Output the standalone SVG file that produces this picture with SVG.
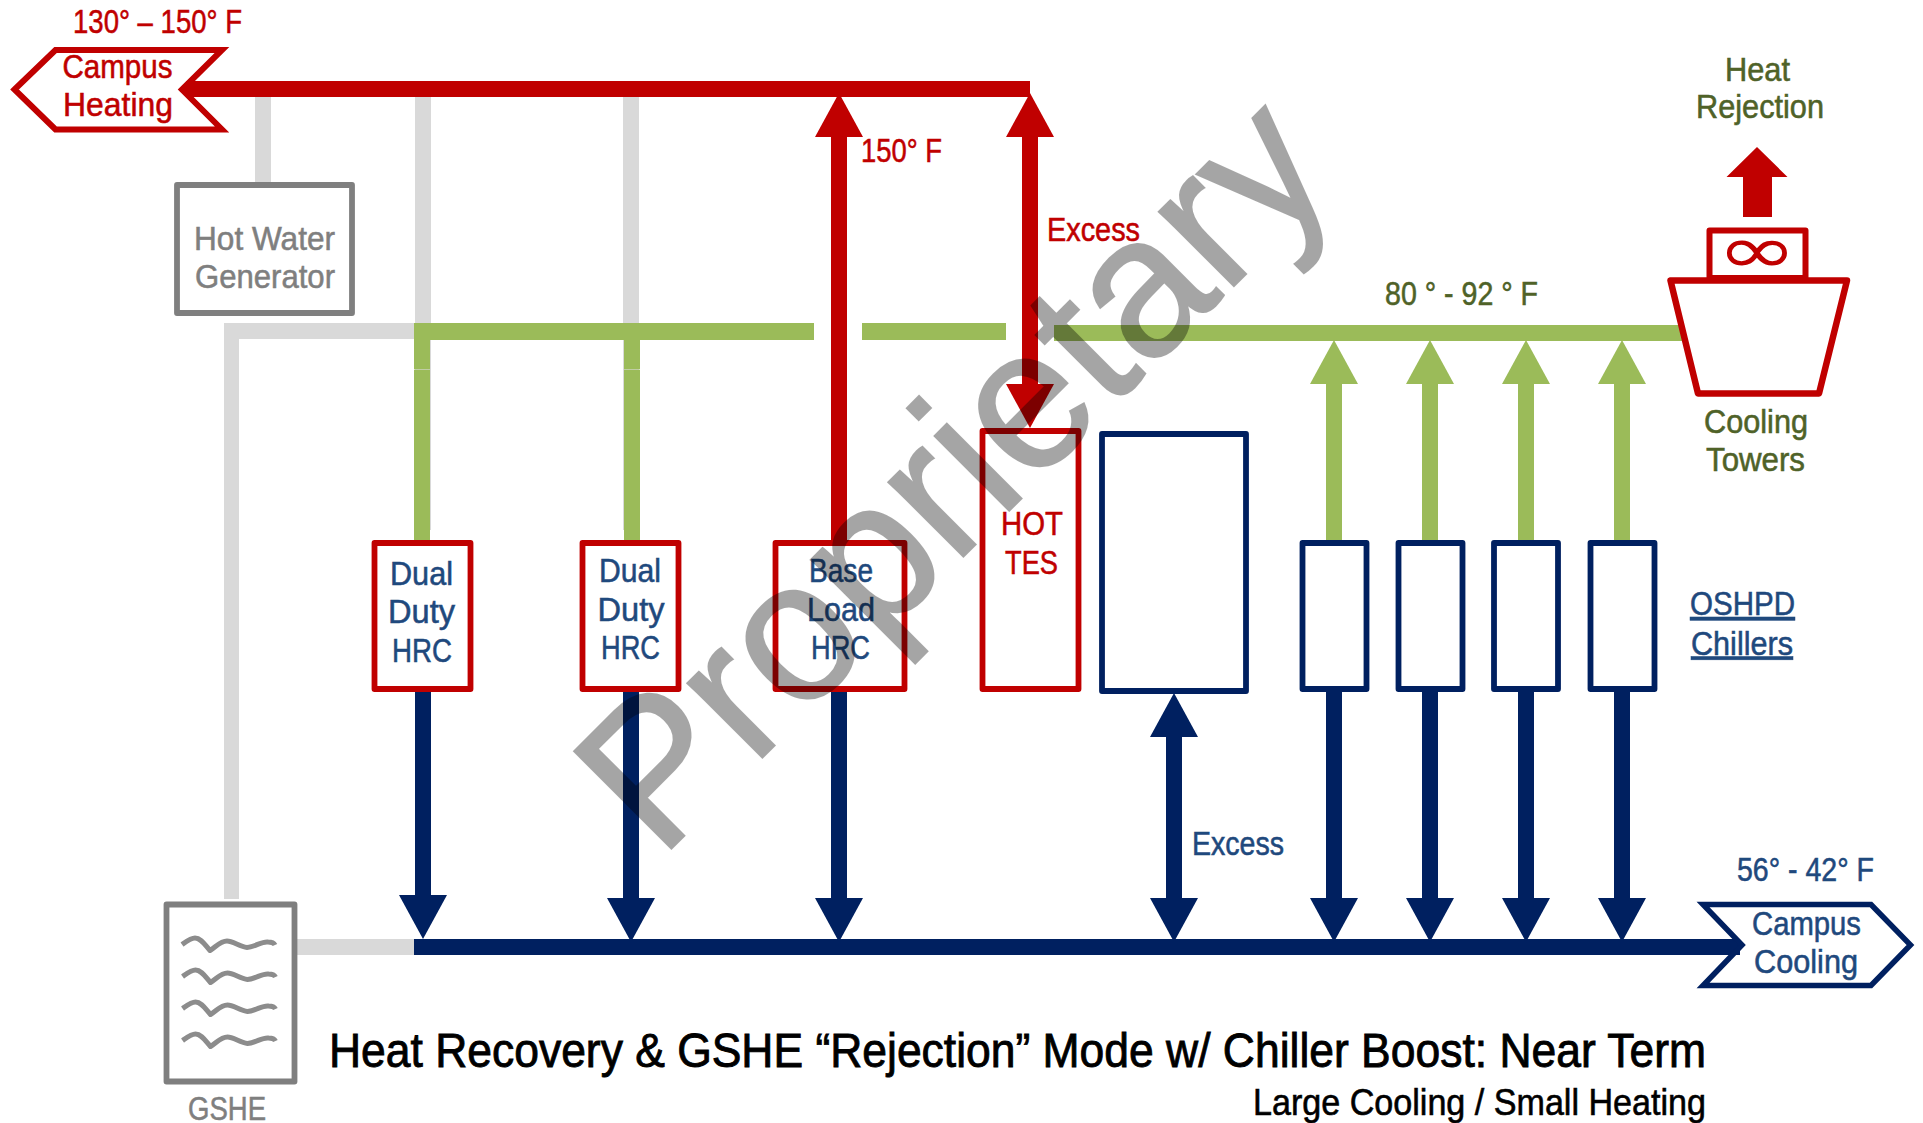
<svg xmlns="http://www.w3.org/2000/svg" width="1923" height="1123" viewBox="0 0 1923 1123">
<defs>
<style>
text{font-family:"Liberation Sans",Arial,sans-serif;font-size:33px;stroke-width:.55}
.box{fill:#fff;stroke-width:5.8;stroke-linejoin:round}
.r{stroke:#C00000}.n{stroke:#002060}.g{stroke:#7F7F7F}
.tr{fill:#C00000;stroke:#C00000}.tb{fill:#1F497D;stroke:#1F497D}.tg{fill:#7F7F7F;stroke:#7F7F7F}.to{fill:#4F6228;stroke:#4F6228}
.tt{fill:#000;stroke:#000}
.pr{fill:#C00000}.pn{fill:#002060}.pl{fill:#9BBB59}.pg{fill:#D9D9D9}
.wave{fill:none;stroke:#8C8C8C;stroke-width:5;stroke-linejoin:round}
.wm{font-size:200px;fill:#000;stroke:#000;stroke-width:2;opacity:.35}
</style>
<path id="up" d="M-24 44L0 0L24 44Z"/>
<path id="dn" d="M-24 -44L0 0L24 -44Z"/>
<path id="wv" d="M182 1.500C187 -2 191 -5 195 -5C201 -5 205 2 210 7.500C216 4 220 -2 227 -2C233 -2 240 4 247 4.500C255 4 262 -2 268 -1C271 -1 274 0 275 2"/>
</defs>
<g id="connectors">
<rect class="pg" x="255" y="97" width="16" height="86"/>
<rect class="pg" x="415" y="97" width="16" height="433"/>
<rect class="pg" x="623" y="97" width="16" height="433"/>
<rect class="pg" x="224" y="323" width="191" height="16"/>
<rect class="pg" x="224" y="323" width="15" height="576"/>
<rect class="pg" x="297" y="939" width="118" height="16"/>
<rect class="pl" x="414" y="323" width="400" height="17"/>
<rect class="pl" x="862" y="323" width="144" height="17"/>
<rect class="pl" x="1054" y="325" width="630" height="16"/>
<rect class="pl" x="414" y="340" width="16" height="29"/><rect class="pl" x="414" y="369.600" width="16" height="170.400"/>
<rect class="pl" x="624" y="340" width="16" height="29"/><rect class="pl" x="624" y="369.600" width="16" height="170.400"/>
<rect class="pl" x="1326" y="380" width="16" height="161"/><use href="#up" class="pl" x="1334" y="340"/>
<rect class="pl" x="1422" y="380" width="16" height="161"/><use href="#up" class="pl" x="1430" y="340"/>
<rect class="pl" x="1518" y="380" width="16" height="161"/><use href="#up" class="pl" x="1526" y="340"/>
<rect class="pl" x="1614" y="380" width="16" height="161"/><use href="#up" class="pl" x="1622" y="340"/>
<rect class="pr" x="186" y="81" width="844" height="16"/>
<rect class="pr" x="831" y="130" width="16" height="410"/><use href="#up" class="pr" x="839" y="93"/>
<rect class="pr" x="1022" y="130" width="16" height="255"/><use href="#up" class="pr" x="1030" y="93"/><use href="#dn" class="pr" x="1030" y="428"/>
<path class="pr" d="M1757 147L1787.500 177H1772V217H1743V177H1726.500Z"/>
<rect class="pn" x="414" y="939" width="1326" height="16"/>
<rect class="pn" x="415" y="689" width="16" height="210"/><use href="#dn" class="pn" x="423" y="939"/>
<rect class="pn" x="623" y="689" width="16" height="212"/><use href="#dn" class="pn" x="631" y="942"/>
<rect class="pn" x="831" y="689" width="16" height="212"/><use href="#dn" class="pn" x="839" y="942"/>
<rect class="pn" x="1166" y="735" width="16" height="166"/><use href="#up" class="pn" x="1174" y="693"/><use href="#dn" class="pn" x="1174" y="942"/>
<rect class="pn" x="1326" y="689" width="16" height="212"/><use href="#dn" class="pn" x="1334" y="942"/>
<rect class="pn" x="1422" y="689" width="16" height="212"/><use href="#dn" class="pn" x="1430" y="942"/>
<rect class="pn" x="1518" y="689" width="16" height="212"/><use href="#dn" class="pn" x="1526" y="942"/>
<rect class="pn" x="1614" y="689" width="16" height="212"/><use href="#dn" class="pn" x="1622" y="942"/>
</g>
<g id="campus-heating">
<path class="r" fill="none" stroke-width="6" d="M14.500 89.500L55.500 50H222L182 89.500L222 129.500H55.500Z"/>
<text class="tr" x="62.500" y="77.500" textLength="110" lengthAdjust="spacingAndGlyphs">Campus</text>
<text class="tr" x="63" y="116" textLength="110" lengthAdjust="spacingAndGlyphs">Heating</text>
<text class="tr" x="73" y="33" textLength="169" lengthAdjust="spacingAndGlyphs">130° – 150° F</text>
</g>
<g id="hot-water-generator">
<rect class="box g" x="177" y="185" width="175" height="128"/>
<text class="tg" x="194" y="249.500" textLength="141" lengthAdjust="spacingAndGlyphs">Hot Water</text>
<text class="tg" x="195" y="287.500" textLength="140" lengthAdjust="spacingAndGlyphs">Generator</text>
</g>
<g id="hrc-1">
<rect class="box r" x="374.500" y="543" width="96" height="146"/>
<text class="tb" x="390" y="585" textLength="63" lengthAdjust="spacingAndGlyphs">Dual</text>
<text class="tb" x="388" y="623" textLength="67" lengthAdjust="spacingAndGlyphs">Duty</text>
<text class="tb" x="392" y="662" textLength="60" lengthAdjust="spacingAndGlyphs">HRC</text>
</g>
<g id="hrc-2">
<rect class="box r" x="582.500" y="543" width="96" height="146"/>
<text class="tb" x="599" y="582" textLength="62" lengthAdjust="spacingAndGlyphs">Dual</text>
<text class="tb" x="597.500" y="621" textLength="67" lengthAdjust="spacingAndGlyphs">Duty</text>
<text class="tb" x="601" y="659" textLength="59" lengthAdjust="spacingAndGlyphs">HRC</text>
</g>
<g id="base-load-hrc">
<rect class="box r" x="775.500" y="543" width="129" height="146"/>
<text class="tb" x="809" y="582" textLength="64" lengthAdjust="spacingAndGlyphs">Base</text>
<text class="tb" x="807" y="621" textLength="68" lengthAdjust="spacingAndGlyphs">Load</text>
<text class="tb" x="811" y="659" textLength="59" lengthAdjust="spacingAndGlyphs">HRC</text>
</g>
<g id="hot-tes">
<rect class="box r" x="982.500" y="431" width="96" height="258"/>
<text class="tr" x="1001" y="534.500" textLength="62" lengthAdjust="spacingAndGlyphs">HOT</text>
<text class="tr" x="1005" y="573.500" textLength="53" lengthAdjust="spacingAndGlyphs">TES</text>
</g>
<g id="blank-tank"><rect class="box n" x="1102" y="434" width="144" height="257"/></g>
<g id="chiller-1"><rect class="box n" x="1302.500" y="543" width="64" height="146"/></g>
<g id="chiller-2"><rect class="box n" x="1398.500" y="543" width="64" height="146"/></g>
<g id="chiller-3"><rect class="box n" x="1494" y="543" width="64" height="146"/></g>
<g id="chiller-4"><rect class="box n" x="1590.500" y="543" width="64" height="146"/></g>
<g id="cooling-tower">
<path class="box r" style="stroke-width:6.500" d="M1670.500 280.500H1847L1819 393.500H1698Z"/>
<rect class="box r" style="stroke-width:6" x="1709.500" y="230.500" width="96" height="47.500"/>
<text class="tr" transform="translate(1757 273) scale(1.35 .93)" text-anchor="middle" style="font-family:'DejaVu Sans',sans-serif;font-size:72px;stroke-width:0">∞</text>
<text class="to" x="1725" y="81" textLength="65" lengthAdjust="spacingAndGlyphs">Heat</text>
<text class="to" x="1696" y="118" textLength="128" lengthAdjust="spacingAndGlyphs">Rejection</text>
<text class="to" x="1704" y="433" textLength="104" lengthAdjust="spacingAndGlyphs">Cooling</text>
<text class="to" x="1706" y="471" textLength="99" lengthAdjust="spacingAndGlyphs">Towers</text>
</g>
<g id="gshe">
<rect class="box g" x="166.500" y="904.500" width="128" height="177"/>
<use href="#wv" class="wave" x="0" y="943"/>
<use href="#wv" class="wave" x="0.500" y="975"/>
<use href="#wv" class="wave" x="0.500" y="1007"/>
<use href="#wv" class="wave" x="0.500" y="1039"/>
<text class="tg" x="188" y="1119.500" textLength="78" lengthAdjust="spacingAndGlyphs">GSHE</text>
</g>
<g id="campus-cooling">
<path class="n" fill="none" stroke-width="5.500" d="M1703 904.500H1871L1910.500 945L1871 985.500H1703L1742 945Z"/>
<text class="tb" x="1752" y="934.500" textLength="109" lengthAdjust="spacingAndGlyphs">Campus</text>
<text class="tb" x="1754" y="973" textLength="104" lengthAdjust="spacingAndGlyphs">Cooling</text>
</g>
<g id="labels">
<text class="to" x="1385" y="305" textLength="153" lengthAdjust="spacingAndGlyphs">80 ° - 92 ° F</text>
<text class="tb" x="1737" y="881" textLength="137" lengthAdjust="spacingAndGlyphs">56° - 42° F</text>
<text class="tr" x="861" y="162" textLength="81" lengthAdjust="spacingAndGlyphs">150° F</text>
<text class="tr" x="1047" y="241" textLength="93" lengthAdjust="spacingAndGlyphs">Excess</text>
<text class="tb" x="1192" y="855" textLength="92" lengthAdjust="spacingAndGlyphs">Excess</text>
<text class="tb" x="1690" y="615" textLength="105" lengthAdjust="spacingAndGlyphs" text-decoration="underline">OSHPD</text>
<text class="tb" x="1691" y="654.500" textLength="102" lengthAdjust="spacingAndGlyphs" text-decoration="underline">Chillers</text>
<text class="tt" x="329" y="1067" textLength="1377" lengthAdjust="spacingAndGlyphs" style="font-size:49px;stroke-width:.9">Heat Recovery &amp; GSHE “Rejection” Mode w/ Chiller Boost: Near Term</text>
<text class="tt" x="1253" y="1115" textLength="453" lengthAdjust="spacingAndGlyphs" style="font-size:37px;stroke-width:.6">Large Cooling / Small Heating</text>
</g>
<text class="wm" transform="translate(660 860) rotate(-45)" textLength="962" lengthAdjust="spacingAndGlyphs">Proprietary</text>
</svg>
